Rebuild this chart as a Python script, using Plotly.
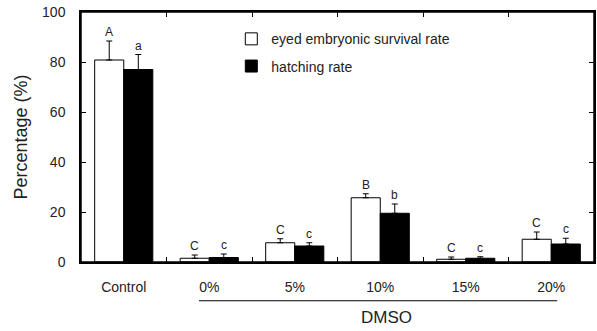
import plotly.graph_objects as go

categories = ["Control", "0%", "5%", "10%", "15%", "20%"]
survival = [80.8, 1.5, 7.7, 25.7, 1.1, 9.1]
survival_err = [7.6, 1.3, 1.6, 1.6, 0.9, 2.9]
hatching = [77.0, 1.8, 6.4, 19.5, 1.5, 7.2]
hatching_err = [6.0, 1.4, 1.3, 3.7, 0.6, 2.3]
survival_letters = ["A", "C", "C", "B", "C", "C"]
hatching_letters = ["a", "c", "c", "b", "c", "c"]
series_names = ["eyed embryonic survival rate", "hatching rate"]

FONT = "Liberation Sans, Arial, sans-serif"
TXT = "#222222"

fig = go.Figure()
fig.add_trace(go.Bar(
    x=categories, y=survival, name=series_names[0], legendgroup="g1",
    marker=dict(color="white", line=dict(color="black", width=1)),
    error_y=dict(type="data", array=survival_err, arrayminus=[0]*6, symmetric=False,
                 color="black", thickness=1, width=3),
))
fig.add_trace(go.Bar(
    x=categories, y=hatching, name=series_names[1], legendgroup="g2",
    marker=dict(color="black", line=dict(color="black", width=1)),
    error_y=dict(type="data", array=hatching_err, arrayminus=[0]*6, symmetric=False,
                 color="black", thickness=1, width=3),
))

offset = 0.17
for i, c in enumerate(categories):
    fig.add_annotation(x=i - offset, y=survival[i] + survival_err[i], text=survival_letters[i],
                       showarrow=False, yanchor="bottom", yshift=0,
                       font=dict(family=FONT, size=12, color=TXT))
    fig.add_annotation(x=i + offset, y=hatching[i] + hatching_err[i], text=hatching_letters[i],
                       showarrow=False, yanchor="bottom", yshift=0,
                       font=dict(family=FONT, size=12, color=TXT))

# frame around plot area, in axis coordinates
fig.add_shape(type="rect", xref="x", yref="y", x0=-0.5, x1=5.5, y0=0, y1=100,
              line=dict(color="black", width=1.5), fillcolor="rgba(0,0,0,0)", layer="above")

# DMSO bracket line and label
fig.add_shape(type="line", xref="x", yref="paper", x0=0.88, x1=5.07, y0=-0.155, y1=-0.155,
              line=dict(color="black", width=1.2))
fig.add_annotation(xref="x", yref="paper", x=3.07, y=-0.222, text="DMSO", showarrow=False,
                   xanchor="center", yanchor="middle",
                   font=dict(family=FONT, size=17, color=TXT))

fig.update_layout(
    width=597, height=331,
    margin=dict(l=81, r=3, t=12, b=69),
    paper_bgcolor="white", plot_bgcolor="white",
    barmode="group", bargap=0.32, bargroupgap=0,
    font=dict(family=FONT, size=14, color=TXT),
    showlegend=True,
    legend=dict(x=0.293, y=0.955, xanchor="left", yanchor="top",
                bgcolor="rgba(0,0,0,0)", font=dict(family=FONT, size=14, color=TXT),
                traceorder="grouped", tracegroupgap=6, itemwidth=30),
    xaxis=dict(type="category", range=[-0.5, 5.5], showline=True, linecolor="black",
               linewidth=1.5, mirror="all", ticks="inside", ticklen=5, tickcolor="black",
               tickson="boundaries", ticklabelstandoff=11, automargin=False,
               tickfont=dict(family=FONT, size=14, color=TXT)),
    yaxis=dict(range=[0, 100], dtick=20, showline=True, linecolor="black", linewidth=1.5,
               mirror="all", ticks="inside", ticklen=5, tickcolor="black", showgrid=False,
               zeroline=False, automargin=False, ticklabelstandoff=11,
               tickfont=dict(family=FONT, size=14, color=TXT),
               title=dict(text="Percentage (%)", font=dict(family=FONT, size=18, color=TXT),
                          standoff=10)),
)

fig.write_html("out.html", config={"displayModeBar": False},
               post_script="document.body.style.margin='0';document.body.style.overflow='hidden';")
